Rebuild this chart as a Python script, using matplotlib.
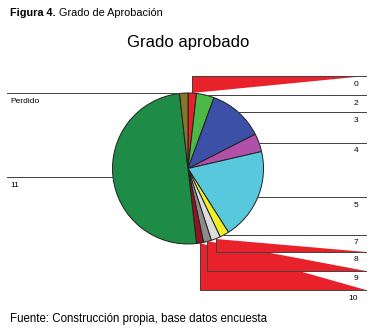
import numpy as np
import matplotlib.pyplot as plt

# slice labels, share (%) and colours, clockwise from 12 o'clock
labels = ['0', '2', '3', '4', '5', '7', '8', '9', '10', '11', 'Perdido']
values = [1.8, 3.8, 11.9, 3.9, 19.6, 2.0, 2.0, 1.7, 1.5, 50.0, 1.8]
colors = ['#e8202a', '#4cb848', '#3c50a8', '#b050a8', '#58c8dc', '#f0f028',
          '#dcdcdc', '#8c8c8c', '#96141e', '#1e8c46', '#827828']

W, H = 375, 329
cx, cy, r = 188, H - 168.5, 75.5

# labels the original layout pushed away from their slice (image y of the line)
moved = {'0': 76, '8': 251.7, '9': 271, '10': 290}

plain = ['Liberation Sans', 'DejaVu Sans']

fig = plt.figure(figsize=(W / 100, H / 100), dpi=100)
ax = fig.add_axes([0, 0, 1, 1])
wedges, _ = ax.pie(values, colors=colors, startangle=90, counterclock=False,
                   center=(cx, cy), radius=r,
                   wedgeprops=dict(edgecolor='#202020', linewidth=0.7))
ax.set_xlim(0, W)
ax.set_ylim(0, H)
ax.axis('off')

red = '#e8212b'
for w, lab in zip(wedges, labels):
    a = np.deg2rad((w.theta1 + w.theta2) / 2)
    px, py = cx + r * np.cos(a), cy + r * np.sin(a)
    ly = H - moved[lab] if lab in moved else py
    if px > cx:
        if lab in moved:
            ax.fill([px, px, 366], [py, ly, ly], color=red, lw=0, zorder=0)
        ax.plot([px, px, 366], [py, ly, ly], color='#404040', lw=0.7)
        ax.text(358, ly - 9.5, lab, ha='right', va='baseline',
                fontsize=6, family=plain)
    else:
        ax.plot([px, 7], [py, py], color='#404040', lw=0.7)
        ax.text(10, py - 9.5, lab, ha='left', va='baseline',
                fontsize=6, family=plain)

t1 = fig.text(10 / W, 1 - 15.5 / H, 'Figura 4.', fontsize=7.8, weight='bold',
              family=plain, va='baseline')
fig.canvas.draw()
x1 = t1.get_window_extent().x1
fig.text((x1 + 3) / W, 1 - 15.5 / H, 'Grado de Aprobación', fontsize=7.8,
         family=plain, va='baseline')
fig.text(188 / W, 1 - 47 / H, 'Grado aprobado', fontsize=12, family=plain,
         ha='center', va='baseline')
fig.text(10 / W, 1 - 321.7 / H, 'Fuente: Construcción propia, base datos encuesta',
         fontsize=8.3, family=plain, va='baseline')

fig.savefig('out.png', dpi=100)
